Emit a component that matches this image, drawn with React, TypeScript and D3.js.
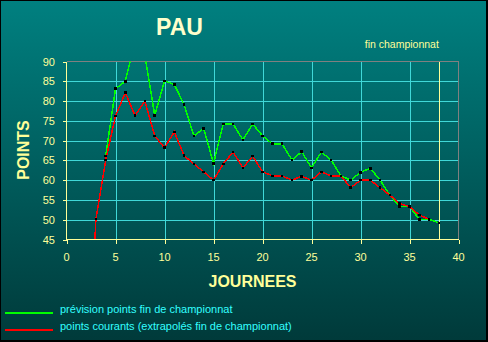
import React from "react";
import * as d3 from "d3";

const title = "PAU";
const xTicks = [0, 5, 10, 15, 20, 25, 30, 35, 40];
const yTicks = [45, 50, 55, 60, 65, 70, 75, 80, 85, 90];
const finDay = 38;

const redDays = [2, 3, 4, 5, 6, 7, 8, 9, 10, 11, 12, 13, 14, 15, 16, 17, 18, 19, 20, 21, 22, 23, 24, 25, 26, 27, 28, 29, 30, 31, 32, 33, 34, 35, 36, 37];
const redValues = [0, 50.2, 65.1, 76.2, 82.1, 76.3, 80.0, 71.2, 68.2, 72.2, 66.2, 64.1, 62.1, 60.0, 64.1, 67.1, 63.1, 66.1, 62.1, 61.1, 61.1, 60.0, 61.0, 60.0, 62.1, 61.1, 61.1, 58.1, 60.0, 60.0, 58.1, 56.2, 54.1, 53.3, 51.2, 50.1];

const greenDays = [4, 5, 6, 7, 8, 9, 10, 11, 12, 13, 14, 15, 16, 17, 18, 19, 20, 21, 22, 23, 24, 25, 26, 27, 28, 29, 30, 31, 32, 33, 34, 35, 36, 37, 38];
const greenValues = [66.1, 83.1, 85.0, 95, 91.5, 76.4, 85.1, 84.2, 79.1, 71.2, 73.1, 64.2, 74.2, 74.2, 70.2, 74.2, 71.2, 69.2, 69.2, 65.1, 67.2, 63.1, 67.1, 65.1, 61.1, 60.0, 62.0, 63.0, 60.0, 56.2, 53.3, 53.3, 50.1, 50.1, 49.2];

const legendLabels = [
  "prévision points fin de championnat",
  "points courants (extrapolés fin de championnat)",
];

const W = 488;
const H = 342;
const left = 66.5;
const right = 458.5;
const top = 61.5;
const bottom = 239.5;

const yellow = "#ffff99";
const grid = "#40d8d8";
const font = "'Liberation Sans', Arial, sans-serif";

export default function App() {
  const x = d3.scaleLinear().domain([0, 40]).range([left, right]);
  const y = d3.scaleLinear().domain([45, 90]).range([bottom, top]);
  const green = greenDays.map((d, i) => [d, greenValues[i]] as [number, number]);
  const red = redDays.map((d, i) => [d, redValues[i]] as [number, number]);
  const line = d3
    .line<[number, number]>()
    .x((d) => x(d[0]))
    .y((d) => y(d[1]));
  const inRange = (p: [number, number]) => p[1] >= 45 && p[1] <= 90;
  const ms = 2.6;

  return (
    <svg
      width={W}
      height={H}
      style={{ position: "absolute", left: 0, top: 0, display: "block" }}
      fontFamily={font}
    >
      <defs>
        <linearGradient id="bg" x1="0" y1="0" x2="0" y2="1">
          <stop offset="0" stopColor="#008080" />
          <stop offset="1" stopColor="#003a3a" />
        </linearGradient>
        <clipPath id="plot">
          <rect x={left} y={top} width={right - left} height={bottom - top} />
        </clipPath>
      </defs>
      <rect x={0} y={0} width={W} height={H} fill="#000" />
      <rect x={1} y={1} width={W - 3} height={H - 3} fill="url(#bg)" />

      {/* title */}
      <text x={156} y={35} fill="#ffffcc" fontSize={23} fontWeight="bold">
        {title}
      </text>
      <text x={x(finDay)} y={48} fill={yellow} fontSize={10.5} textAnchor="end">
        fin championnat
      </text>

      {/* grid */}
      <g shapeRendering="crispEdges">
        {yTicks
          .filter((t) => t > 45 && t < 90)
          .map((t) => (
            <line key={"h" + t} x1={left} x2={right} y1={Math.round(y(t)) + 0.5} y2={Math.round(y(t)) + 0.5} stroke={grid} />
          ))}
        {xTicks
          .filter((t) => t > 0 && t < 40)
          .map((t) => (
            <line key={"v" + t} y1={top} y2={bottom} x1={Math.round(x(t)) + 0.5} x2={Math.round(x(t)) + 0.5} stroke={grid} />
          ))}
        <line x1={left} x2={right} y1={top} y2={top} stroke="#808080" />
        <line x1={right} x2={right} y1={top} y2={bottom} stroke="#808080" />
        <line x1={Math.round(x(finDay)) + 0.5} x2={Math.round(x(finDay)) + 0.5} y1={top} y2={bottom} stroke={yellow} />
      </g>

      {/* lines */}
      <g clipPath="url(#plot)" shapeRendering="crispEdges">
        <path d={line(green) || ""} fill="none" stroke="#00ff00" strokeWidth={1.5} />
        <path d={line(red) || ""} fill="none" stroke="#ff0000" strokeWidth={1.5} />
      </g>
      <g shapeRendering="crispEdges">
        {green.filter(inRange).map((p, i) => (
          <rect key={"gm" + i} x={x(p[0]) - ms / 2} y={y(p[1]) - ms / 2} width={ms} height={ms} fill="#000" />
        ))}
        {red.filter(inRange).map((p, i) => (
          <rect key={"rm" + i} x={x(p[0]) - ms / 2} y={y(p[1]) - ms / 2} width={ms} height={ms} fill="#000" />
        ))}
      </g>

      {/* axes */}
      <g shapeRendering="crispEdges">
        <line x1={left} x2={left} y1={top} y2={bottom} stroke={yellow} />
        <line x1={left} x2={right} y1={bottom} y2={bottom} stroke={yellow} />
        {yTicks.map((t) => (
          <line key={"ytl" + t} x1={left - 4} x2={left} y1={Math.round(y(t)) + 0.5} y2={Math.round(y(t)) + 0.5} stroke={yellow} />
        ))}
        {xTicks.map((t) => (
          <line key={"xtl" + t} x1={Math.round(x(t)) + 0.5} x2={Math.round(x(t)) + 0.5} y1={bottom} y2={bottom + 4} stroke={yellow} />
        ))}
      </g>
      {yTicks.map((t) => (
        <text key={"yt" + t} x={55} y={y(t) + 4} fill={yellow} fontSize={11} textAnchor="end">
          {t}
        </text>
      ))}
      {xTicks.map((t) => (
        <text key={"xt" + t} x={x(t)} y={261} fill={yellow} fontSize={11} textAnchor="middle">
          {t}
        </text>
      ))}

      {/* axis titles */}
      <text x={252.5} y={287} fill={yellow} fontSize={16} fontWeight="bold" textAnchor="middle">
        JOURNEES
      </text>
      <text
        transform={`translate(29,150) rotate(-90)`}
        fill={yellow}
        fontSize={16}
        fontWeight="bold"
        textAnchor="middle"
      >
        POINTS
      </text>

      {/* legend */}
      <g shapeRendering="crispEdges">
        <line x1={5} x2={53} y1={312.5} y2={312.5} stroke="#00ff00" strokeWidth={2} />
        <line x1={5} x2={53} y1={329.5} y2={329.5} stroke="#ff0000" strokeWidth={2} />
      </g>
      <text x={60} y={313} fill="#33ffff" fontSize={11}>
        {legendLabels[0]}
      </text>
      <text x={60} y={330} fill="#33ffff" fontSize={11}>
        {legendLabels[1]}
      </text>
    </svg>
  );
}
